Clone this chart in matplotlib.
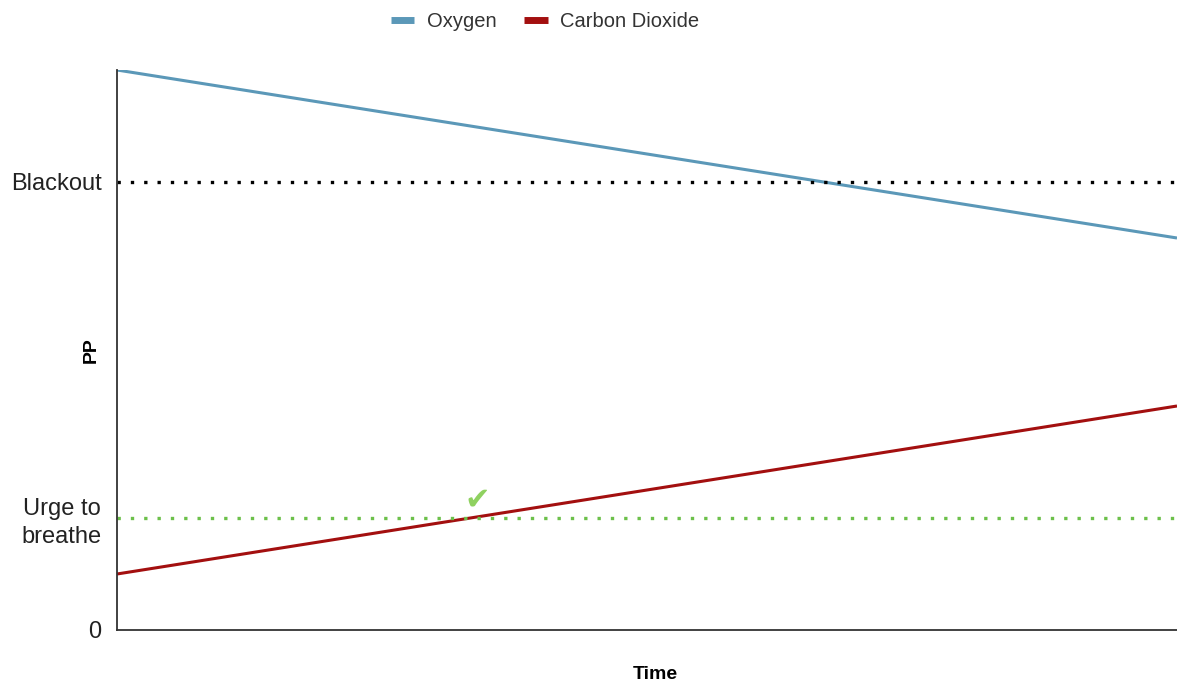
import numpy as np
import matplotlib
matplotlib.use("Agg")
import matplotlib.pyplot as plt

# data: partial pressure over time (arbitrary units)
time = [0, 30]
oxygen = [100, 70]
carbon_dioxide = [10, 40]
blackout_level = 80
urge_level = 20
check_point = (10.2, 23.3)

tick_values = [0, urge_level, blackout_level]
tick_labels = ["0", "Urge to\nbreathe", "Blackout"]

plt.rcParams['font.family'] = ['Liberation Sans', 'DejaVu Sans']

fig = plt.figure(figsize=(11.77, 6.88), dpi=100, facecolor="white")
ax = fig.add_axes([117 / 1177, 58 / 688, 1060 / 1177, 560 / 688])

ax.plot(time, oxygen, color="#5b98b8", linewidth=2.2, label="Oxygen", solid_capstyle="butt")
ax.plot(time, carbon_dioxide, color="#a30f0f", linewidth=2.2, label="Carbon Dioxide", solid_capstyle="butt")

ax.axhline(blackout_level, color="black", linestyle=(0, (1, 3)), linewidth=2.4)
ax.axhline(urge_level, color="#6cc04a", linestyle=(0, (1, 3)), linewidth=2.4)

ax.text(check_point[0], check_point[1], "\u2714", color="#8fd160", fontsize=22,
        ha="center", va="center", family=["DejaVu Sans"])

ax.set_xlim(time[0], time[-1])
ax.set_ylim(0, 100)
ax.set_xticks([])
ax.set_yticks(tick_values)
ax.set_yticklabels(tick_labels, fontsize=17, color="#222222", linespacing=1.35,
                   multialignment="center")
ax.tick_params(axis="y", length=0, pad=11)

for side in ["top", "right"]:
    ax.spines[side].set_visible(False)
for side in ["left", "bottom"]:
    ax.spines[side].set_color("#333333")
    ax.spines[side].set_linewidth(1.3)

ax.set_xlabel("Time", fontsize=14, fontweight="bold")
ax.xaxis.set_label_coords((655 - 117) / 1060, -0.065)
ax.set_ylabel("PP", fontsize=14, fontweight="bold")
ax.yaxis.set_label_coords(-(117 - 100) / 1060, 0.5)

leg = fig.legend(loc="upper center", bbox_to_anchor=(545 / 1177, 1.009), ncol=2, frameon=False,
                 fontsize=14.5, handlelength=1.15, handleheight=0.5, columnspacing=1.4,
                 handletextpad=0.6)
for line in leg.get_lines():
    line.set_linewidth(5)
for t in leg.get_texts():
    t.set_color("#333333")

fig.savefig("out.png", dpi=100, facecolor="white")
